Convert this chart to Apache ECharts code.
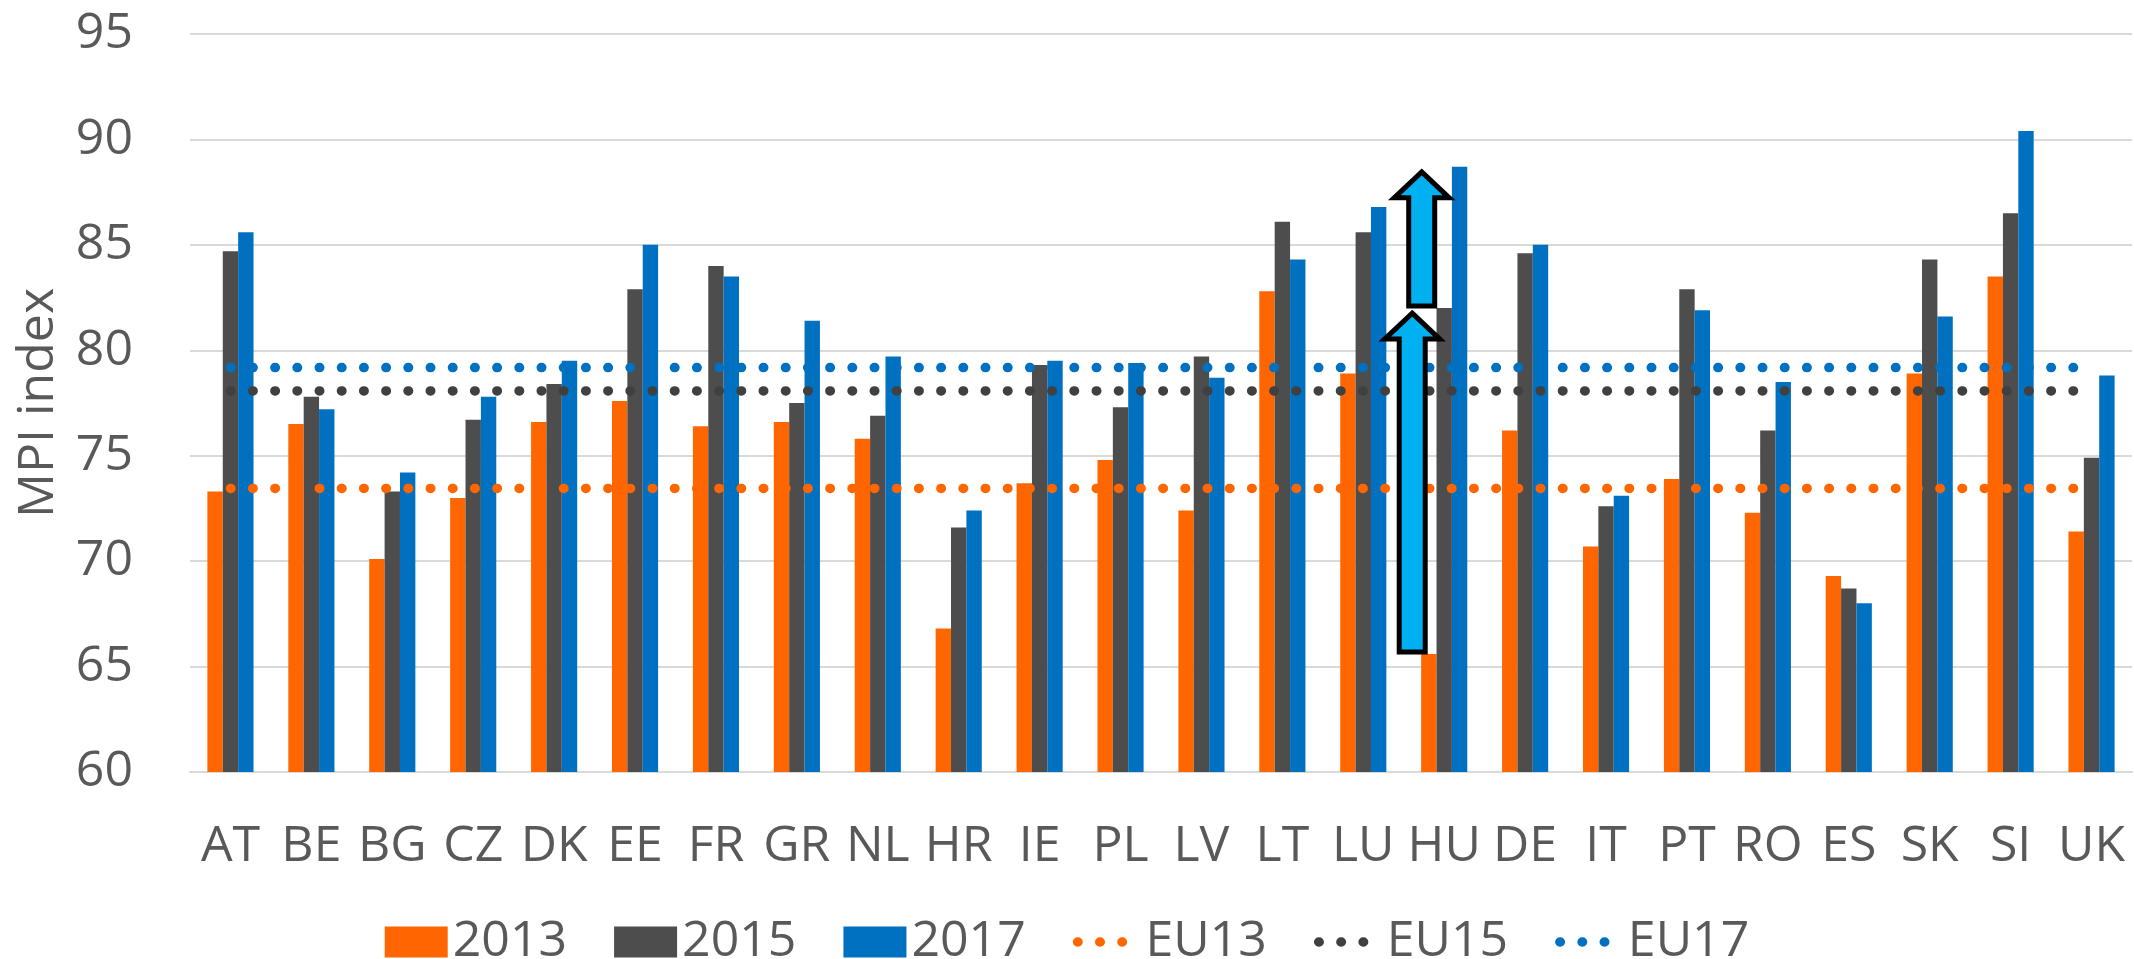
<!DOCTYPE html>
<html>
<head>
<meta charset="utf-8">
<script src="https://cdn.jsdelivr.net/npm/echarts@6/dist/echarts.min.js"></script>
<style>
html, body { margin: 0; padding: 0; background: #fff; }
#mpi { width: 2134px; height: 959px; }
</style>
</head>
<body>
<div id="mpi"></div>
<script>
var countries = ['AT','BE','BG','CZ','DK','EE','FR','GR','NL','HR','IE','PL','LV','LT','LU','HU','DE','IT','PT','RO','ES','SK','SI','UK'];
var mpi2013 = [73.3,76.5,70.1,73.0,76.6,77.6,76.4,76.6,75.8,66.8,73.7,74.8,72.4,82.8,78.9,65.6,76.2,70.7,73.9,72.3,69.3,78.9,83.5,71.4];
var mpi2015 = [84.7,77.8,73.3,76.7,78.4,82.9,84.0,77.5,76.9,71.6,79.3,77.3,79.7,86.1,85.6,82.0,84.6,72.6,82.9,76.2,68.7,84.3,86.5,74.9];
var mpi2017 = [85.6,77.2,74.2,77.8,79.5,85.0,83.5,81.4,79.7,72.4,79.5,79.4,78.7,84.3,86.8,88.7,85.0,73.1,81.9,78.5,68.0,81.6,90.4,78.8];
var eu13 = 73.45;
var eu15 = 78.07;
var eu17 = 79.18;
var yTicks = { min: 60, max: 95, step: 5 };

var orange = '#FF6600', grey = '#4D4D4D', blue = '#0070C0';
var txt = '#595959';
var font = 'Open Sans';
var dots = { width: 9.5, type: [0.5, 21.7], cap: 'round' };

function euLine(name, value, color) {
    return {
        name: name,
        type: 'line',
        symbol: 'none',
        z: 3,
        data: [[countries[0], value], [countries[countries.length - 1], value]],
        lineStyle: { color: color, width: dots.width, type: dots.type, cap: dots.cap },
        itemStyle: { color: color }
    };
}

function lineLegend(name) {
    // dotted line only, no marker in the middle
    return { name: name, itemStyle: { opacity: 0 }, lineStyle: { width: dots.width, type: dots.type, cap: dots.cap } };
}

var myChart = echarts.init(document.getElementById('mpi'));
myChart.setOption({
    animation: false,
    grid: { left: 190, right: 2, top: 34, bottom: 187 },
    legend: {
        top: 912,
        left: 'center',
        itemWidth: 63,
        itemHeight: 31,
        itemGap: 47,
        textStyle: { color: txt, fontSize: 50, fontFamily: font },
        data: [
            { name: '2013', icon: 'rect' },
            { name: '2015', icon: 'rect' },
            { name: '2017', icon: 'rect' },
            lineLegend('EU13'), lineLegend('EU15'), lineLegend('EU17')
        ]
    },
    xAxis: {
        type: 'category',
        data: countries,
        axisLine: { lineStyle: { color: '#D9D9D9', width: 2 } },
        axisTick: { show: false },
        axisLabel: { interval: 0, color: txt, fontSize: 50, fontFamily: font, margin: 50 }
    },
    yAxis: {
        type: 'value',
        min: yTicks.min,
        max: yTicks.max,
        interval: yTicks.step,
        name: 'MPI index',
        nameLocation: 'middle',
        nameGap: 126,
        nameTextStyle: { color: txt, fontSize: 50, fontFamily: font },
        axisLabel: { color: txt, fontSize: 50, fontFamily: font, margin: 57 },
        splitLine: { lineStyle: { color: '#D9D9D9', width: 2 } }
    },
    series: [
        { name: '2013', type: 'bar', data: mpi2013, itemStyle: { color: orange }, barGap: '0%', barCategoryGap: '43%' },
        { name: '2015', type: 'bar', data: mpi2015, itemStyle: { color: grey } },
        { name: '2017', type: 'bar', data: mpi2017, itemStyle: { color: blue } },
        euLine('EU13', eu13, orange),
        euLine('EU15', eu15, '#404040'),
        euLine('EU17', eu17, blue)
    ]
});

// two block arrows showing the HU jump 2013 -> 2015 -> 2017
function arrow(cx, fromVal, toVal) {
    var tail = myChart.convertToPixel({ yAxisIndex: 0 }, fromVal) - 2;
    var tip = myChart.convertToPixel({ yAxisIndex: 0 }, toVal) + 5;
    var hw = 27.5, hh = 26, sw = 13;
    return {
        type: 'polygon',
        z: 100,
        shape: { points: [
            [cx, tip], [cx + hw, tip + hh], [cx + sw, tip + hh], [cx + sw, tail],
            [cx - sw, tail], [cx - sw, tip + hh], [cx - hw, tip + hh]
        ] },
        style: { fill: '#00B0F0', stroke: '#000', lineWidth: 5, lineJoin: 'miter' }
    };
}
var hu = countries.indexOf('HU');
var huX = myChart.convertToPixel({ xAxisIndex: 0 }, 'HU');
myChart.setOption({
    graphic: [
        arrow(huX - 32, mpi2013[hu], mpi2015[hu]),
        arrow(huX - 22.5, mpi2015[hu], mpi2017[hu])
    ]
});
</script>
</body>
</html>
